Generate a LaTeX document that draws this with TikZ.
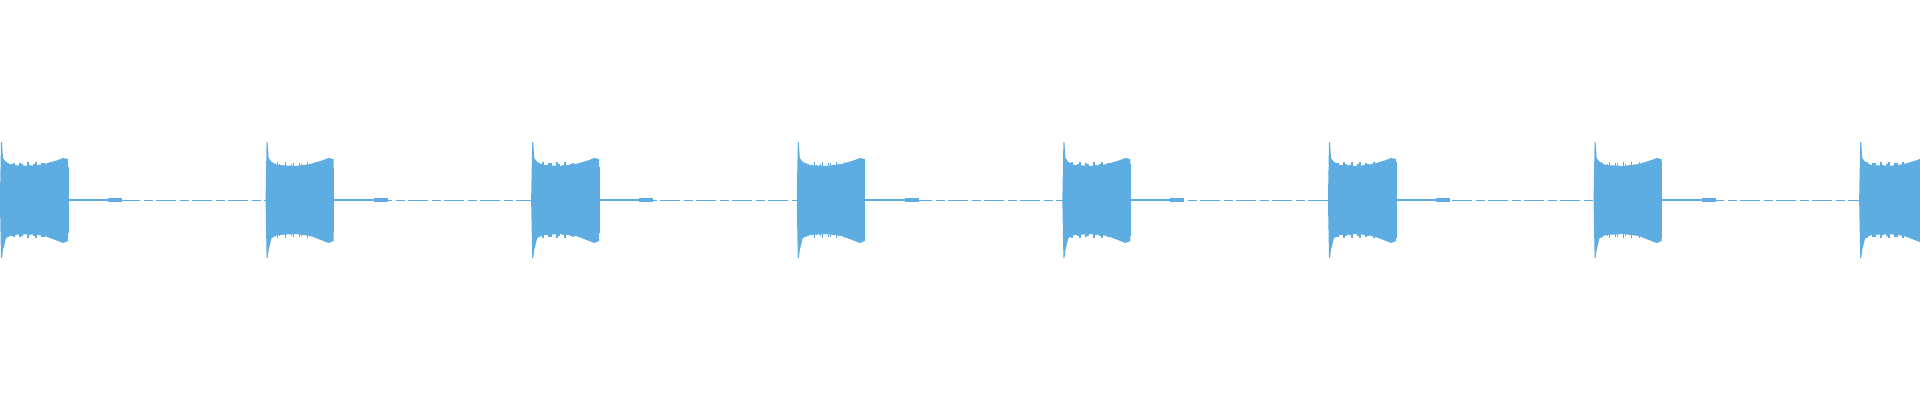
\documentclass[tikz,border=0pt]{standalone}
\definecolor{wave}{RGB}{93,173,226}
\begin{document}
\begin{tikzpicture}[x=1pt,y=1pt,
  burst/.style={fill=wave,draw=none},
  tail/.style={draw=wave,line width=2.2pt},
  base/.style={draw=wave,line width=1pt,dash pattern=on 9pt off 3pt on 20pt off 4pt}]
\useasboundingbox (0,-200) rectangle (1920,200);
\draw[base] (0,0) -- (1920,0);
\foreach \i in {0,...,7}{
  \pgfmathsetmacro{\xo}{\i*265.6}
  \begin{scope}[xshift=\xo pt]
    \fill[burst] (0,-4) -- (0,4) -- (1,58) -- (2,58) -- (3,42) -- (6,38) -- (12,35)
      -- (30,34) -- (45,36) -- (58,40) -- (63,42) -- (68,41)
      -- (68,-41) -- (63,-43) -- (58,-41) -- (45,-36) -- (30,-34) -- (12,-35)
      -- (6,-38) -- (3,-50) -- (2,-58) -- (1,-58) -- (0,-4) -- cycle;
    \foreach \k in {0,...,32}{
      \pgfmathsetmacro{\xx}{3+\k*2}
      \pgfmathsetmacro{\hh}{35+3*sin(\k*97+\i*41)}
      \fill[burst] (\xx,-\hh) rectangle (\xx+1.6,\hh);
    }
    \draw[tail] (68,0) -- (120,0);
    \fill[burst] (108,-2.2) rectangle (122,2.2);
  \end{scope}
}
\end{tikzpicture}
\end{document}
